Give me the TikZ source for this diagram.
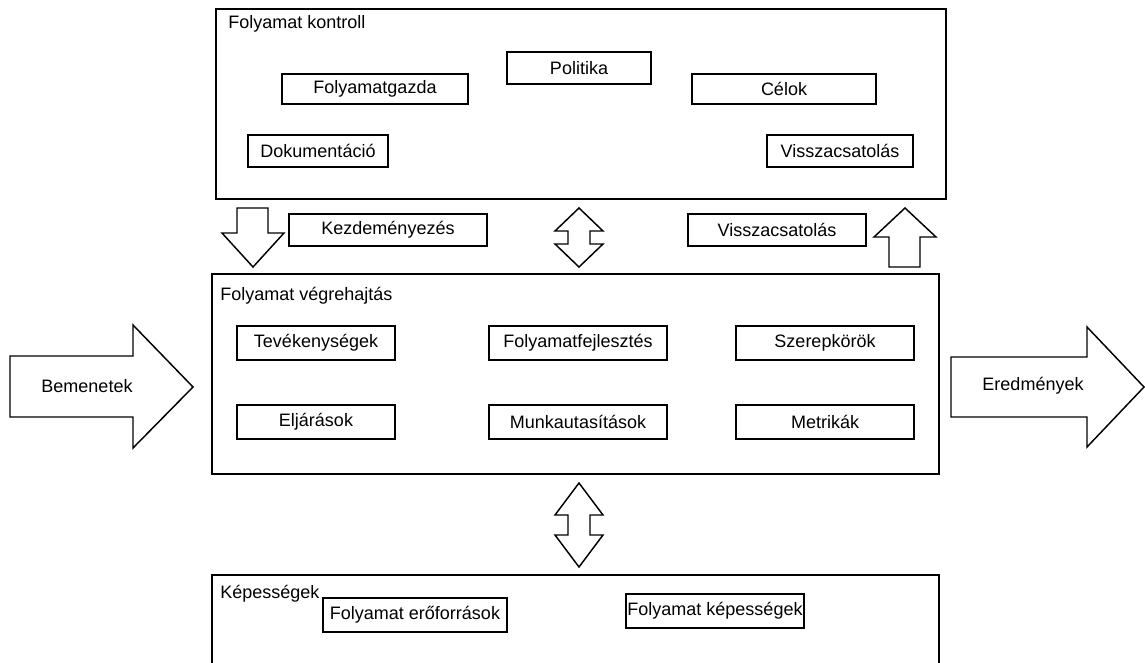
\documentclass[tikz,border=0pt]{standalone}
\usepackage{fontspec}
\setmainfont{Liberation Sans}
\usepackage{tikz}
\usepackage{xcolor}

\tikzset{
	box/.style={draw,line width=1.4pt,inner sep=0pt,minimum height=24pt,font=\fontsize{13.5}{16}\selectfont},
	frame/.style={draw,line width=1.4pt},
	blockarrow/.style={draw,line width=1.1pt,line join=miter,fill=white},
	title/.style={anchor=west,inner sep=0pt,font=\fontsize{13.5}{16}\selectfont}
}

\begin{document}
\begin{tikzpicture}[x=0.75pt,y=-0.75pt]
	\useasboundingbox (0,0) rectangle (1145,662);
	\clip (0,0) rectangle (1145,662);

	% Folyamat kontroll
	\draw[frame] (216,9) rectangle (946,199);
	\node[title] (ctrl) at (228,24) {Folyamat kontroll};
	\node[box,minimum width=108pt] (politika) at (579,68) {Politika};
	\node[box,minimum width=139pt,minimum height=23pt] (gazda) at (375,89) {Folyamatgazda};
	\node[box,minimum width=138pt,minimum height=23pt] (celok) at (784,89) {Célok};
	\node[box,minimum width=105pt] (doku) at (318,151) {Dokumentáció};
	\node[box,minimum width=109pt] (vissza1) at (840,151) {Visszacsatolás};

	% kozotti sor
	\draw[blockarrow] (237,208) -- (268,208) -- (268,233) -- (284,233) -- (253,267) -- (222,233) -- (237,233) -- cycle;
	\node[box,minimum width=149pt] (kezd) at (388,230) {Kezdeményezés};
	\draw[blockarrow] (579,208) -- (603,231) -- (590,231) -- (590,244) -- (603,244) -- (579,267) -- (555,244) -- (568,244) -- (568,231) -- (555,231) -- cycle;
	\node[box,minimum width=133pt] (vissza2) at (777,230) {Visszacsatolás};
	\draw[blockarrow] (905,208) -- (936,237) -- (920,237) -- (920,267) -- (889,267) -- (889,237) -- (874,237) -- cycle;

	% Folyamat vegrehajtas
	\draw[frame] (212,274) rectangle (939,474);
	\node[title] (exec) at (220,296) {Folyamat végrehajtás};
	\node[box,minimum width=119pt,minimum height=25pt] (tev) at (316,343) {Tevékenységek};
	\node[box,minimum width=134pt,minimum height=25pt] (fejl) at (578,343) {Folyamatfejlesztés};
	\node[box,minimum width=134pt,minimum height=25pt] (szerep) at (825,343) {Szerepkörök};
	\node[box,minimum width=119pt,minimum height=25pt] (eljar) at (316,422) {Eljárások};
	\node[box,minimum width=134pt,minimum height=25pt] (munka) at (578,422) {Munkautasítások};
	\node[box,minimum width=134pt,minimum height=25pt] (metrika) at (825,422) {Metrikák};

	% be- es kimenet
	\draw[blockarrow] (10,356) -- (133,356) -- (133,325) -- (193,387) -- (133,448) -- (133,417) -- (10,417) -- cycle;
	\node[font=\fontsize{13.5}{16}\selectfont] (be) at (87,386) {Bemenetek};
	\draw[blockarrow] (951,357) -- (1087,357) -- (1087,327) -- (1144,387) -- (1087,447) -- (1087,417) -- (951,417) -- cycle;
	\node[font=\fontsize{13.5}{16}\selectfont] (ki) at (1033,386) {Eredmények};

	\draw[blockarrow] (579,483) -- (603,515) -- (590,515) -- (590,535) -- (603,535) -- (579,567) -- (555,535) -- (568,535) -- (568,515) -- (555,515) -- cycle;

	% Kepessegek
	\draw[frame] (212,575) rectangle (939,690);
	\node[title] (kep) at (220,594) {Képességek};
	\node[box,minimum width=138pt,minimum height=25.5pt] (forras) at (415,615) {Folyamat erőforrások};
	\node[box,minimum width=134pt,minimum height=25pt] (kepes) at (715,611) {Folyamat képességek};
\end{tikzpicture}
\end{document}
